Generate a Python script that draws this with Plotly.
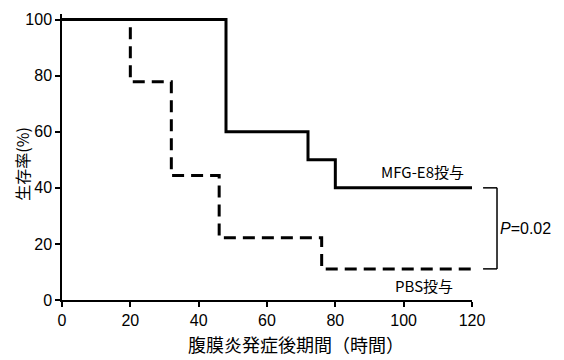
import plotly.graph_objects as go

# Data
mfg_hours = [0, 48, 72, 80, 120]
mfg_surv = [100, 60, 50, 40, 40]
pbs_hours = [0, 20, 32, 46, 76, 120]
pbs_surv = [100, 77.8, 44.4, 22.2, 11.1, 11.1]
x_ticks = [0, 20, 40, 60, 80, 100, 120]
y_ticks = [0, 20, 40, 60, 80, 100]
label_mfg = "MFG-E8投与"
label_pbs = "PBS投与"
p_text = "<i>P</i>=0.02"
x_title = "腹膜炎発症後期間（時間）"
y_title = "生存率(%)"

Y_MAX = 102
NUM_FONT = "Liberation Sans, Arial, sans-serif"
CJK_FONT = "Noto Sans CJK JP, sans-serif"

fig = go.Figure()
fig.add_trace(go.Scatter(x=pbs_hours, y=pbs_surv, mode="lines", line_shape="hv",
                         line=dict(color="black", width=3, dash="12px,7px"),
                         showlegend=False, hoverinfo="skip"))
fig.add_trace(go.Scatter(x=mfg_hours, y=mfg_surv, mode="lines", line_shape="hv",
                         line=dict(color="black", width=3),
                         showlegend=False, hoverinfo="skip"))

fig.update_layout(
    width=556, height=352,
    margin=dict(l=54, r=92, t=6.4, b=60, autoexpand=False),
    plot_bgcolor="white", paper_bgcolor="white",
    font=dict(family=NUM_FONT, size=16, color="black"),
    xaxis=dict(range=[0, 120], tickvals=x_ticks, showgrid=False, zeroline=False,
               showline=True, linecolor="black", linewidth=1.5,
               ticks="outside", ticklen=5, tickwidth=1.5, tickcolor="black",
               tickfont=dict(family=NUM_FONT, size=16)),
    yaxis=dict(range=[0, Y_MAX], tickvals=y_ticks, showgrid=False, zeroline=False,
               showline=True, linecolor="black", linewidth=1.5,
               ticks="outside", ticklen=5, tickwidth=1.5, tickcolor="black",
               tickfont=dict(family=NUM_FONT, size=16)),
)

# bracket between final survival values
x_in, x_out = 1.027, 1.061
y_top = mfg_surv[-1] / Y_MAX
y_bot = pbs_surv[-1] / Y_MAX
for (xa, ya, xb, yb) in [(x_in, y_top, x_out, y_top), (x_out, y_top, x_out, y_bot),
                         (x_in, y_bot, x_out, y_bot)]:
    fig.add_shape(type="line", xref="paper", yref="paper", x0=xa, y0=ya, x1=xb, y1=yb,
                  line=dict(color="black", width=1.5))

fig.add_annotation(x=105.5, y=46, xref="x", yref="y", text=label_mfg, showarrow=False,
                   font=dict(family=CJK_FONT, size=15), xanchor="center", yanchor="middle")
fig.add_annotation(x=106, y=5, xref="x", yref="y", text=label_pbs, showarrow=False,
                   font=dict(family=CJK_FONT, size=15), xanchor="center", yanchor="middle")
fig.add_annotation(x=x_out + 0.003, y=(y_top + y_bot) / 2, xref="paper", yref="paper",
                   text=p_text, showarrow=False, font=dict(family=NUM_FONT, size=16),
                   xanchor="left", yanchor="middle")
fig.add_annotation(x=0.571, y=-0.153, xref="paper", yref="paper", text=x_title,
                   showarrow=False, font=dict(family=CJK_FONT, size=18),
                   xanchor="center", yanchor="middle")
fig.add_annotation(x=-0.098, y=0.476, xref="paper", yref="paper", text=y_title,
                   showarrow=False, textangle=-90, font=dict(family=CJK_FONT, size=16),
                   xanchor="center", yanchor="middle")

fig.write_html("out.html")
